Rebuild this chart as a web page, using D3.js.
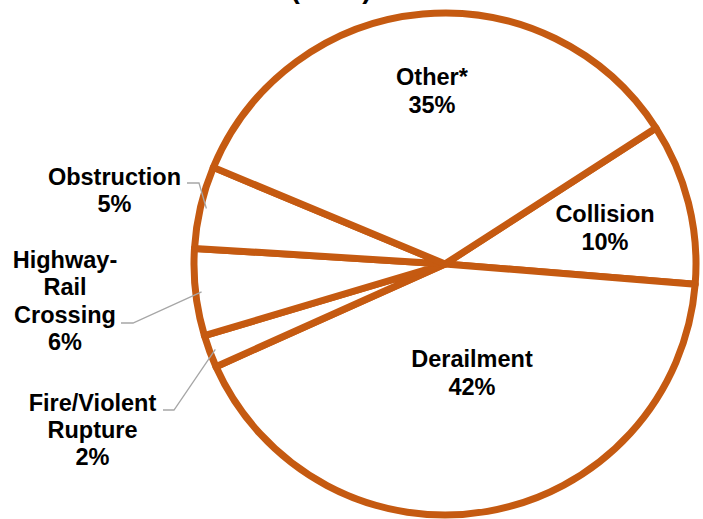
<!DOCTYPE html>
<html>
<head>
<meta charset="utf-8">
<script src="https://cdn.jsdelivr.net/npm/d3@7"></script>
<style>
html,body{margin:0;padding:0;background:#fff;}
svg{display:block;}
text{font-family:"Liberation Sans",Arial,sans-serif;font-weight:bold;fill:#000;}
</style>
</head>
<body>
<svg id="chart" width="703" height="519"></svg>
<script>
// Data (clockwise from the Collision slice)
const categories = ["Collision", "Derailment", "Fire/Violent Rupture", "Highway-Rail Crossing", "Obstruction", "Other*"];
const values = [10.4, 42.0, 2.1, 5.6, 5.3, 34.6];
const pctLabels = ["10%", "42%", "2%", "6%", "5%", "35%"];
const labelLines = [["Collision"], ["Derailment"], ["Fire/Violent", "Rupture"], ["Highway-", "Rail", "Crossing"], ["Obstruction"], ["Other*"]];
const titleText = "(2013)";

const svg = d3.select("#chart");
const cx = 445, cy = 264, r = 251;
const orange = "#C55A11";
const startDeg = 57.2;

const data = categories.map((c, i) => ({cat: c, value: values[i], pct: pctLabels[i], lines: labelLines[i]}));

const pie = d3.pie().sort(null).value(d => d.value)
  .startAngle(startDeg * Math.PI / 180)
  .endAngle(startDeg * Math.PI / 180 + 2 * Math.PI);
const arcs = pie(data);
const arc = d3.arc().innerRadius(0).outerRadius(r);

// Title (mostly above the visible area)
svg.append("text").attr("x", 331).attr("y", -2).attr("text-anchor", "middle")
  .style("font-size", "28px").text(titleText);

const g = svg.append("g").attr("transform", `translate(${cx},${cy})`);
g.selectAll("path.slice").data(arcs).enter().append("path")
  .attr("class", "slice")
  .attr("d", arc)
  .attr("fill", "#fff")
  .attr("stroke", orange)
  .attr("stroke-width", 7)
  .attr("stroke-linejoin", "round");

// Label placement: [x, first baseline] in px, chosen per category
const labelPos = {
  "Collision": {x: 605, y: 222, lh: 28},
  "Derailment": {x: 472, y: 367, lh: 28},
  "Fire/Violent Rupture": {x: 92.5, y: 411, lh: 27},
  "Highway-Rail Crossing": {x: 65, y: 268, lh: 27.3},
  "Obstruction": {x: 114.5, y: 185, lh: 26.5},
  "Other*": {x: 432, y: 85, lh: 28}
};
// Leader lines for outside labels: start point and elbow, end on the slice edge
const leaders = {
  "Obstruction": {sx: 187, sy: 183, ex: 199},
  "Highway-Rail Crossing": {sx: 121, sy: 323, ex: 133},
  "Fire/Violent Rupture": {sx: 163, sy: 410, ex: 174}
};

arcs.forEach(a => {
  const d = a.data;
  const p = labelPos[d.cat];
  const lines = d.lines.concat([d.pct]);
  const t = svg.append("text").attr("text-anchor", "middle").style("font-size", "23.5px");
  lines.forEach((ln, i) => {
    t.append("tspan").attr("x", p.x).attr("y", p.y + i * p.lh).text(ln);
  });
  const L = leaders[d.cat];
  if (L) {
    const mid = (a.startAngle + a.endAngle) / 2;
    const rr = r - 6;
    const px = cx + rr * Math.sin(mid), py = cy - rr * Math.cos(mid);
    svg.append("polyline")
      .attr("points", `${L.sx},${L.sy} ${L.ex},${L.sy} ${px},${py}`)
      .attr("fill", "none").attr("stroke", "#A6A6A6").attr("stroke-width", 1.3);
  }
});
</script>
</body>
</html>
